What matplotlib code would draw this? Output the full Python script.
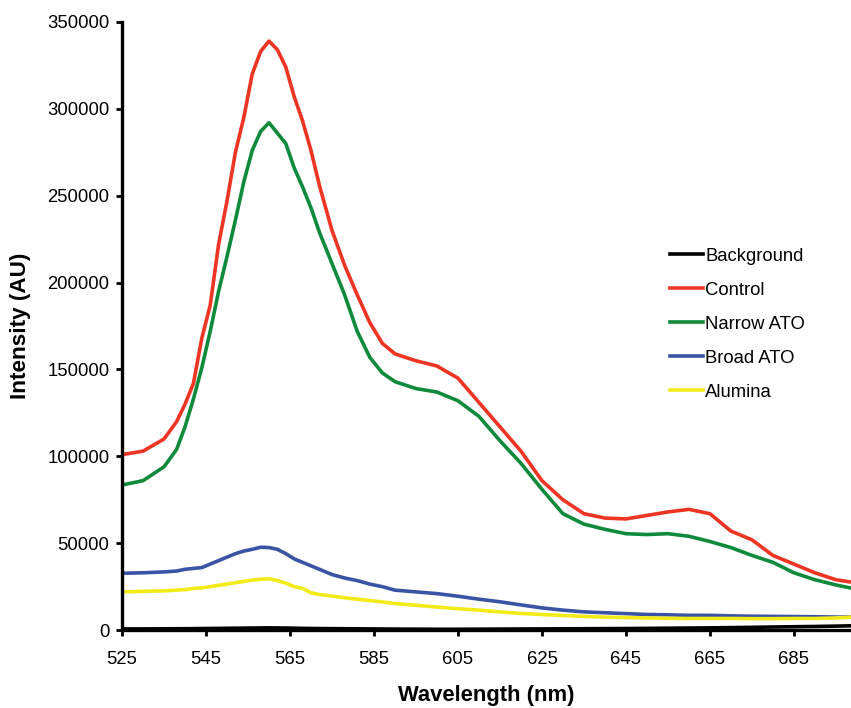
#!/usr/bin/env python3
"""Fluorescence emission spectra for the ATO / alumina substrates."""

import matplotlib

matplotlib.use("Agg")
import matplotlib.pyplot as plt

plt.rcParams["font.family"] = ["Liberation Sans", "DejaVu Sans"]

WAVELENGTH = [
    525, 530, 535, 538, 540, 542, 544, 546, 548, 550, 552, 554, 556, 558, 560,
    562, 564, 566, 568, 570, 572, 575, 578, 581, 584, 587, 590, 595, 600, 605,
    610, 615, 620, 625, 630, 635, 640, 645, 650, 655, 660, 665, 670, 675, 680,
    685, 690, 695, 699,
]

BACKGROUND = [
    700, 700, 750, 800, 800, 850, 900, 950, 1000, 1050, 1100, 1150, 1200, 1250, 1300,
    1250, 1200, 1100, 1000, 950, 900, 850, 800, 750, 700, 650, 600, 550, 500, 500,
    550, 600, 650, 700, 750, 800, 850, 900, 1000, 1100, 1200, 1300, 1450, 1600, 1800,
    1950, 2100, 2300, 2500,
]

CONTROL = [
    101000, 103000, 110000, 120000, 130000, 142000, 168000, 187000, 222000, 247000,
    275000, 295000, 320000, 333000, 339000, 334000, 324000, 307000, 293000, 276000,
    256000, 230000, 210000, 193000, 177000, 165000, 159000, 155000, 152000, 145000,
    131000, 117000, 103000, 86000, 75000, 67000, 64500, 64000, 66000, 68000,
    69500, 67000, 57000, 52000, 43000, 38000, 33000, 29000, 27500,
]

NARROW_ATO = [
    83500, 86000, 94000, 104000, 117000, 133000, 151000, 172000, 195000, 215000,
    236000, 258000, 276000, 287000, 292000, 286000, 280000, 266000, 255000, 243000,
    229000, 211000, 193000, 172000, 157000, 148000, 143000, 139000, 137000, 132000,
    123000, 109000, 96000, 81000, 67000, 61000, 58000, 55500, 55000, 55500,
    54000, 51000, 47500, 43000, 39000, 33000, 29000, 26000, 24000,
]

BROAD_ATO = [
    32700, 33000, 33500, 34000, 35000, 35500, 36000, 38000, 40000, 42000,
    44000, 45500, 46500, 47700, 47500, 46500, 44000, 41000, 39000, 37000,
    35000, 32000, 30000, 28500, 26500, 25000, 23000, 22000, 21000, 19500,
    17800, 16300, 14500, 12800, 11500, 10500, 10000, 9500, 9000, 8800,
    8500, 8500, 8200, 8000, 7900, 7800, 7700, 7500, 7500,
]

ALUMINA = [
    22000, 22300, 22600, 23000, 23300, 24000, 24300, 25000, 25800, 26500,
    27300, 28000, 28800, 29300, 29500, 28500, 27000, 25000, 24000, 21500,
    20500, 19600, 18600, 17800, 17000, 16200, 15300, 14300, 13300, 12300,
    11500, 10500, 9600, 9000, 8400, 7900, 7500, 7200, 7000, 6800,
    6700, 6700, 6700, 6600, 6600, 6700, 6700, 7000, 7500,
]

SERIES = [
    ("Background", BACKGROUND, "#000000"),
    ("Control", CONTROL, "#EE3524"),
    ("Narrow ATO", NARROW_ATO, "#0F8A3C"),
    ("Broad ATO", BROAD_ATO, "#3A53A4"),
    ("Alumina", ALUMINA, "#F2EB1A"),
]

X_TICKS = [525, 545, 565, 585, 605, 625, 645, 665, 685]
Y_TICKS = [0, 50000, 100000, 150000, 200000, 250000, 300000, 350000]


def main() -> None:
    fig = plt.figure(figsize=(8.51, 7.08), dpi=100)
    ax = fig.add_axes([0.1434, 0.110, 0.8566, 0.859])

    for label, values, color in SERIES:
        ax.plot(WAVELENGTH, values, color=color, lw=2.6, label=label,
                solid_joinstyle="round")

    ax.set_xlim(525, 698.6)
    ax.set_ylim(0, 350000)
    ax.set_xticks(X_TICKS)
    ax.set_yticks(Y_TICKS)
    ax.tick_params(direction="out", length=4, width=2.0, labelsize=13.3)
    ax.tick_params(axis="x", pad=11)
    ax.tick_params(axis="y", pad=5)

    for side in ("top", "right"):
        ax.spines[side].set_visible(False)
    for side in ("left", "bottom"):
        ax.spines[side].set_linewidth(2.4)

    ax.set_xlabel("Wavelength (nm)", fontsize=15.8, fontweight="bold", labelpad=12)
    ax.set_ylabel("Intensity (AU)", fontsize=16.2, fontweight="bold", labelpad=12)

    ax.legend(loc="upper left", bbox_to_anchor=(0.752, 0.629), frameon=False,
              fontsize=13.3, handlelength=1.75, handletextpad=0.15,
              labelspacing=0.92, borderpad=0, borderaxespad=0)

    fig.savefig("out.png", dpi=100)
    plt.close(fig)


if __name__ == "__main__":
    main()
